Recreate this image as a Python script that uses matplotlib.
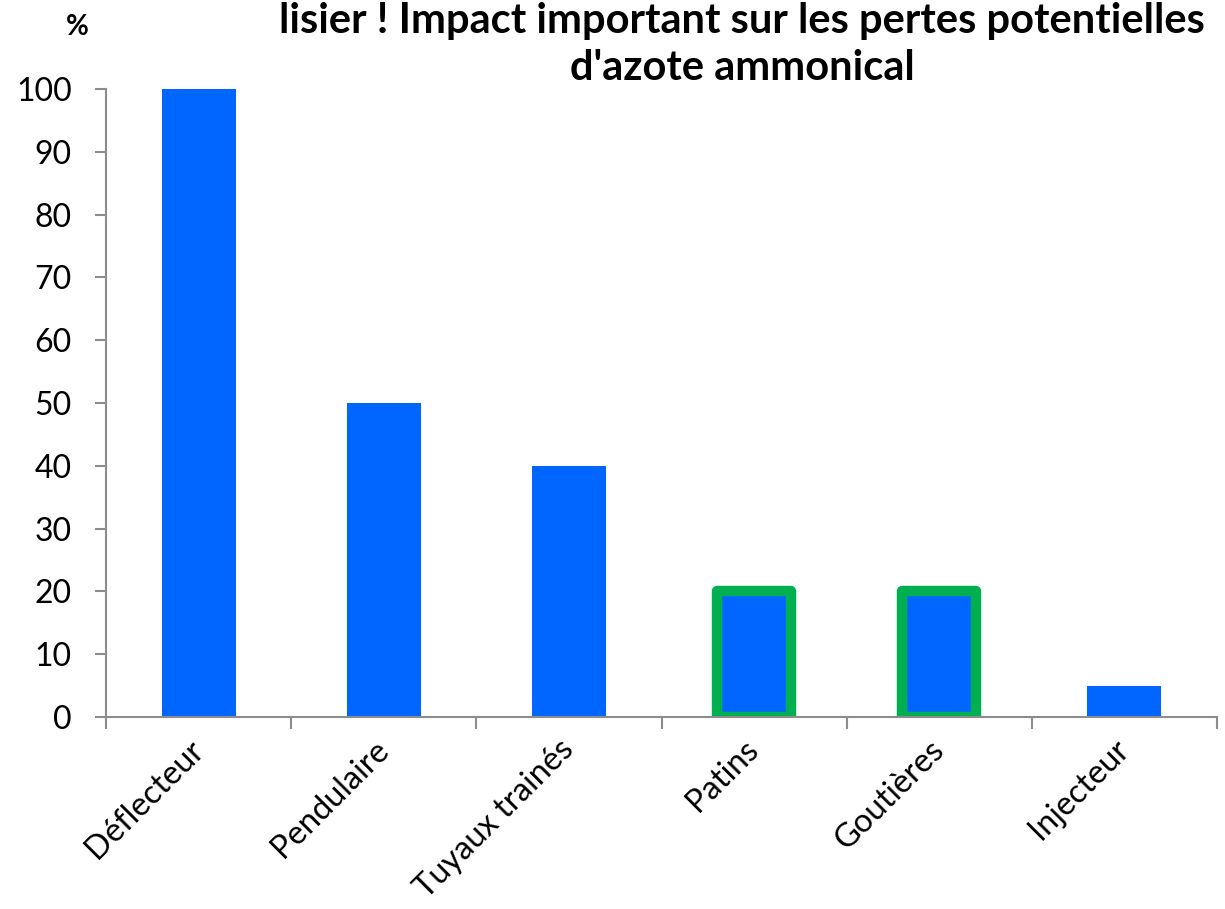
import matplotlib.pyplot as plt
from matplotlib.ticker import FixedLocator

plt.rcParams['font.family'] = ['Lato', 'DejaVu Sans']

# pertes potentielles d'azote ammoniacal selon le matériel d'épandage
materiels = ["Déflecteur", "Pendulaire", "Tuyaux trainés", "Patins", "Goutières", "Injecteur"]
pertes = [100, 50, 40, 20, 20, 5]
encadres = ["Patins", "Goutières"]
graduations_y = [0, 10, 20, 30, 40, 50, 60, 70, 80, 90, 100]

bleu = "#0066FF"
vert = "#00B050"
gris = "#8C8C8C"

fig = plt.figure(figsize=(12.25, 9.09), dpi=100)
ax = fig.add_axes([106 / 1225, 1 - 717 / 909, 1111 / 1225, 628 / 909])

x = list(range(len(materiels)))
barres = ax.bar(x, pertes, width=0.4, color=bleu, zorder=1)
for b, nom in zip(barres, materiels):
    if nom in encadres:
        b.set_edgecolor(vert)
        b.set_linewidth(7.5)
        b.set_joinstyle("round")

ax.set_xlim(-0.5, len(materiels) - 0.5)
ax.set_ylim(0, 100)
ax.set_yticks(graduations_y)

# ticks entre les catégories, libellés inclinés sous chaque barre
ax.xaxis.set_major_locator(FixedLocator([i - 0.5 for i in range(len(materiels) + 1)]))
ax.set_xticklabels([])
for i, nom in enumerate(materiels):
    ax.annotate(nom, xy=(i, 0), xycoords=("data", "axes fraction"),
                xytext=(0, -28), textcoords="offset pixels",
                rotation=45, rotation_mode="anchor", ha="right", va="center",
                fontsize=23.5, annotation_clip=False)

ax.tick_params(axis="x", which="major", length=8.6, width=1.5, color=gris, direction="out")
ax.tick_params(axis="y", length=8, width=1.5, color=gris, labelsize=23, pad=16.5)

for s in ["top", "right"]:
    ax.spines[s].set_visible(False)
for s in ["left", "bottom"]:
    ax.spines[s].set_color(gris)
    ax.spines[s].set_linewidth(1.5)

fig.text(77 / 1225, 1 - 35 / 909, "%", fontsize=20, fontweight="bold", ha="center", va="baseline")
fig.text(742 / 1225, 1 - 33 / 909, "lisier ! Impact important sur les pertes potentielles",
         fontsize=30, fontweight="bold", ha="center", va="baseline")
fig.text(742 / 1225, 1 - 80 / 909, "d'azote ammonical",
         fontsize=30, fontweight="bold", ha="center", va="baseline")

fig.savefig("out.png", dpi=100)
